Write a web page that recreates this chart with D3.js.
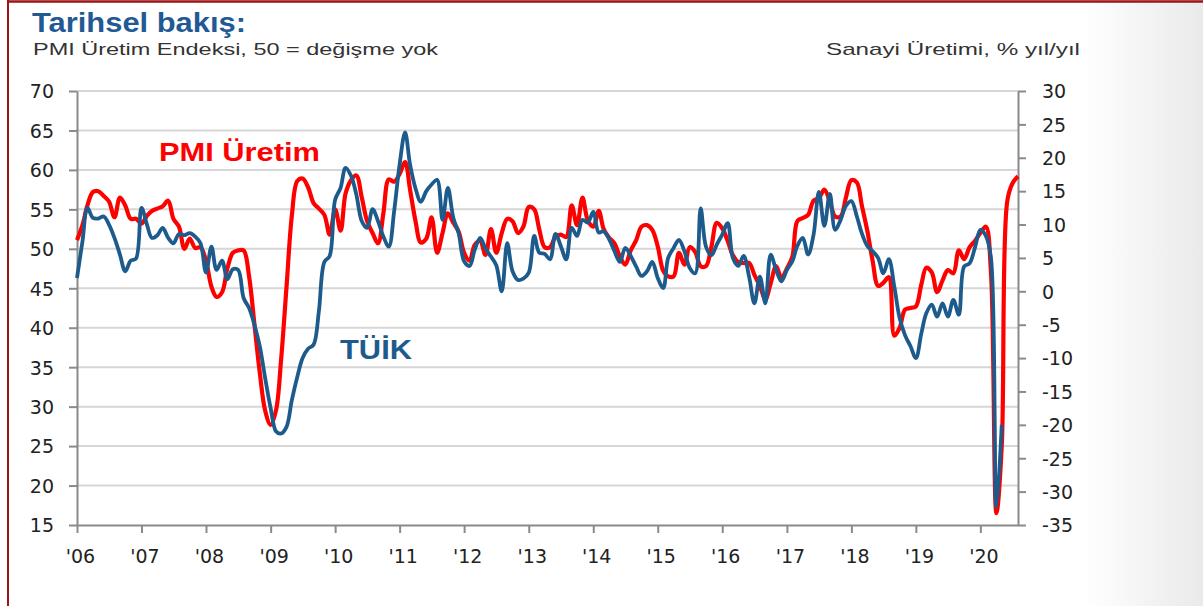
<!DOCTYPE html>
<html lang="tr">
<head>
<meta charset="UTF-8">
<title>Tarihsel bakış</title>
<script src="https://d3js.org/d3.v7.min.js"></script>
<style>
  body { margin: 0; background: #fff; }
  svg { display: block; }
  .tick text { font-family: "DejaVu Sans", sans-serif; font-size: 19px; fill: #222; }
</style>
</head>
<body>
<div id="chart"></div>
<script>
// PMI Üretim endeksi (sol eksen), aylık, Ocak 2006 - Ağustos 2020
const pmi = [
  51.1, 53, 55.5, 57.2, 57.3, 56.7, 56, 54, 56.5, 55.5, 53.8, 53.8,
  53.2, 54.2, 54.8, 55.1, 55.4, 56.1, 53.8, 52.8, 50, 51.3, 50.1, 50.2,
  48.5, 45.2, 43.9, 44.5, 47.5, 49.5, 49.8, 49.8, 46.5, 40.5, 34.2, 29.5,
  27.7, 29.6, 35.9, 45.2, 54.2, 58.6, 58.9, 57.8, 55.8, 55.1, 54.3, 51.8,
  55, 52.3, 57, 58.7, 59.3, 56.5, 53.5, 52, 50.7, 54.5, 58.8, 58.5,
  59.5, 61, 57.5, 53.5, 50.8, 51.3, 54, 49.5, 52, 54.5, 53.3, 52.2,
  49.5, 48.5, 50.5, 51, 49.2, 52.5, 49.5, 52, 53.8, 53.5, 52, 52.8,
  55.3, 55, 52.5, 50.2, 50.2, 51.5, 51.8, 51.5, 55.5, 53, 56.5, 53.6,
  52.8, 54.8, 52.5, 51.4, 50.7, 49, 48, 49.8, 51.1, 52.8, 53, 52.4,
  50.3, 47.2, 46.5, 46.5, 49.5, 48, 50.2, 49.6, 47.8, 47.8, 50.3, 53.3,
  52.6, 51, 49.2, 48.3, 48.2, 48.2, 46.7, 45.3, 43.6, 45.6, 47.8, 46.3,
  47.5, 49, 53.5, 53.9, 54.3, 56.1, 56.4, 57.5, 56, 54.1, 54.1, 56.5,
  58.7, 58.4, 55.5, 52.3, 48.5, 45.3, 45.7, 46.4, 39, 40, 42.3, 42.5,
  42.7, 45.5, 47.6, 47, 44.5, 46, 47.3, 46.9, 49.8, 48.7, 50.2, 51,
  52, 52.8, 47, 16.5, 25, 56, 58.3, 59.2
];

// TÜİK sanayi üretimi, % yıl/yıl (sağ eksen), aylık, Ocak 2006 - Mayıs 2020
const tuik = [
  2, 7.5, 12.5, 11, 10.9, 11.2, 10, 8, 5.5, 3, 4.6, 4.9,
  12.5, 10, 8, 8.4, 9.5, 8, 7.2, 8.6, 8.4, 8.7, 8.2, 7.2,
  2.8, 6.7, 3.2, 4.6, 1.8, 3.3, 3.2, -1, -2.5, -5, -8.3, -13,
  -17.5, -21, -21.3, -20.3, -16.3, -12.8, -10, -8.6, -8, -3, 4.4, 5.3,
  13.7, 15.5, 18.5, 17.3, 14.5, 10.5, 9.5, 12.3, 10.5, 8.2, 6.7, 12,
  19, 23.8, 19, 15.4, 13.4, 15, 16, 16.7, 10.7, 15.5, 11, 8.7,
  4.5, 3.8, 6.2, 8, 6.4, 5.2, 3.9, 0, 7.2, 3, 1.7, 1.9,
  2.8, 8.3, 5.8, 5.6, 4.8, 8.6, 6.8, 4.8, 9.5, 8.3, 10.7, 10.3,
  11.9, 8.8, 9, 7.8, 6, 4.4, 6.5, 5.3, 3.7, 2.3, 3, 4.4,
  2, 0.5, 5, 6.5, 7.7, 6, 3.5, 2.7, 12.4, 6.7, 5.4, 7,
  8.5, 10.2, 5, 3.8, 5.3, 2.2, -1.8, 2.2, -1.8, 5.5, 3.2, 1.5,
  3.2, 4.5, 6.8, 8, 5.5, 8.5, 14.9, 9.8, 14.6, 9.2, 10.7, 12.8,
  13.5, 11.2, 8.7, 6.8, 6, 5, 2.7, 4.8, 0.7, -4, -6.6, -8.2,
  -10, -6.3, -3.3, -2, -3.8, -1.8, -3.8, -1.3, -3.5, 3.7, 4.2, 6.5,
  9.2, 8.3, 5, -32.3, -20
];

const leftTicks = [15, 20, 25, 30, 35, 40, 45, 50, 55, 60, 65, 70];
const rightTicks = [-35, -30, -25, -20, -15, -10, -5, 0, 5, 10, 15, 20, 25, 30];
const years = d3.range(2006, 2021);

const W = 1203, H = 606;
const margin = {top: 91, right: 185, bottom: 81, left: 77};
const width = W - margin.left - margin.right,
      height = H - margin.top - margin.bottom;

const month = i => new Date(2006, i, 1);

const svg = d3.select("#chart").append("svg")
    .attr("width", W)
    .attr("height", H);

// slide background with a light grey fade on the right
const grad = svg.append("defs").append("linearGradient")
    .attr("id", "bg").attr("x1", 0).attr("x2", 1).attr("y1", 0).attr("y2", 0);
grad.append("stop").attr("offset", "0.9").attr("stop-color", "#ffffff");
grad.append("stop").attr("offset", "1").attr("stop-color", "#eaeaea");
svg.append("rect").attr("width", W).attr("height", H).attr("fill", "url(#bg)");

// dark red frame
svg.append("line").attr("x1", 7).attr("x2", W).attr("y1", 1.5).attr("y2", 1.5)
    .attr("stroke", "#9c1414").attr("stroke-width", 2.5);
svg.append("line").attr("x1", 8).attr("x2", 8).attr("y1", 0).attr("y2", H)
    .attr("stroke", "#9c1414").attr("stroke-width", 2);

// titles
svg.append("text").attr("x", 32).attr("y", 32)
    .attr("textLength", 214).attr("lengthAdjust", "spacingAndGlyphs")
    .style("font-family", "'Liberation Sans', Arial, sans-serif").style("font-weight", "bold")
    .style("font-size", "28px").attr("fill", "#1f5a94")
    .text("Tarihsel bakış:");
svg.append("text").attr("x", 33).attr("y", 55)
    .attr("textLength", 405).attr("lengthAdjust", "spacingAndGlyphs")
    .style("font-family", "'Liberation Sans', Arial, sans-serif")
    .style("font-size", "17px").attr("fill", "#333")
    .text("PMI Üretim Endeksi, 50 = değişme yok");
svg.append("text").attr("x", 826).attr("y", 55)
    .attr("textLength", 254).attr("lengthAdjust", "spacingAndGlyphs")
    .style("font-family", "'Liberation Sans', Arial, sans-serif")
    .style("font-size", "17px").attr("fill", "#333")
    .text("Sanayi Üretimi, % yıl/yıl");

const g = svg.append("g")
    .attr("transform", `translate(${margin.left},${margin.top})`);

// scales
const x = d3.scaleTime()
    .domain([month(0), month(175)])
    .range([0, width]);
const yL = d3.scaleLinear().domain([15, 70]).range([height, 0]);
const yR = d3.scaleLinear().domain([-35, 30]).range([height, 0]);

// grid lines
g.append("g")
  .selectAll("line")
  .data(leftTicks.filter(d => d > 15))
  .join("line")
    .attr("x1", 0).attr("x2", width)
    .attr("y1", d => yL(d)).attr("y2", d => yL(d))
    .attr("stroke", "#d6d6d6").attr("stroke-width", 2);

// axes
const axisColor = "#8a8a8a";
const styleAxis = sel => {
  sel.select(".domain").attr("stroke", axisColor).attr("stroke-width", 2);
  sel.selectAll(".tick line").attr("stroke", axisColor).attr("stroke-width", 2);
};

g.append("g")
    .call(d3.axisLeft(yL).tickValues(leftTicks).tickFormat(d => String(d))
      .tickSize(8).tickPadding(15).tickSizeOuter(0))
    .call(styleAxis)
    .call(a => a.selectAll(".tick text").attr("dy", "0.36em"));

g.append("g")
    .attr("transform", `translate(${width},0)`)
    .call(d3.axisRight(yR).tickValues(rightTicks).tickFormat(d => String(d))
      .tickSize(8).tickPadding(16).tickSizeOuter(0))
    .call(styleAxis)
    .call(a => a.selectAll(".tick text").attr("dy", "0.36em"));

g.append("g")
    .attr("transform", `translate(0,${height})`)
    .call(d3.axisBottom(x)
      .tickValues(years.map(y => new Date(y, 0, 1)))
      .tickFormat(d => "'" + d3.timeFormat("%y")(d))
      .tickSize(8).tickPadding(17).tickSizeOuter(0))
    .call(styleAxis)
    .call(a => a.selectAll(".tick text").attr("dx", 3));

// lines
const linePmi = d3.line()
    .x((d, i) => x(month(i)))
    .y(d => yL(d))
    .curve(d3.curveCatmullRom.alpha(0.5));
const lineTuik = d3.line()
    .x((d, i) => x(month(i)))
    .y(d => yR(d))
    .curve(d3.curveCatmullRom.alpha(0.5));

g.append("path")
    .datum(pmi)
    .attr("fill", "none")
    .attr("stroke", "#ff0000")
    .attr("stroke-width", 4.2)
    .attr("stroke-linejoin", "round")
    .attr("d", linePmi);

g.append("path")
    .datum(tuik)
    .attr("fill", "none")
    .attr("stroke", "#1d5b8c")
    .attr("stroke-width", 3.8)
    .attr("stroke-linejoin", "round")
    .attr("d", lineTuik);

// series labels
svg.append("text").attr("x", 159).attr("y", 161)
    .attr("textLength", 161).attr("lengthAdjust", "spacingAndGlyphs")
    .style("font-family", "'Liberation Sans', Arial, sans-serif").style("font-weight", "bold")
    .style("font-size", "26px").attr("fill", "#ff0000")
    .text("PMI Üretim");
svg.append("text").attr("x", 340).attr("y", 359)
    .attr("textLength", 72).attr("lengthAdjust", "spacingAndGlyphs")
    .style("font-family", "'Liberation Sans', Arial, sans-serif").style("font-weight", "bold")
    .style("font-size", "27px").attr("fill", "#1d5b8c")
    .text("TÜİK");
</script>
</body>
</html>
